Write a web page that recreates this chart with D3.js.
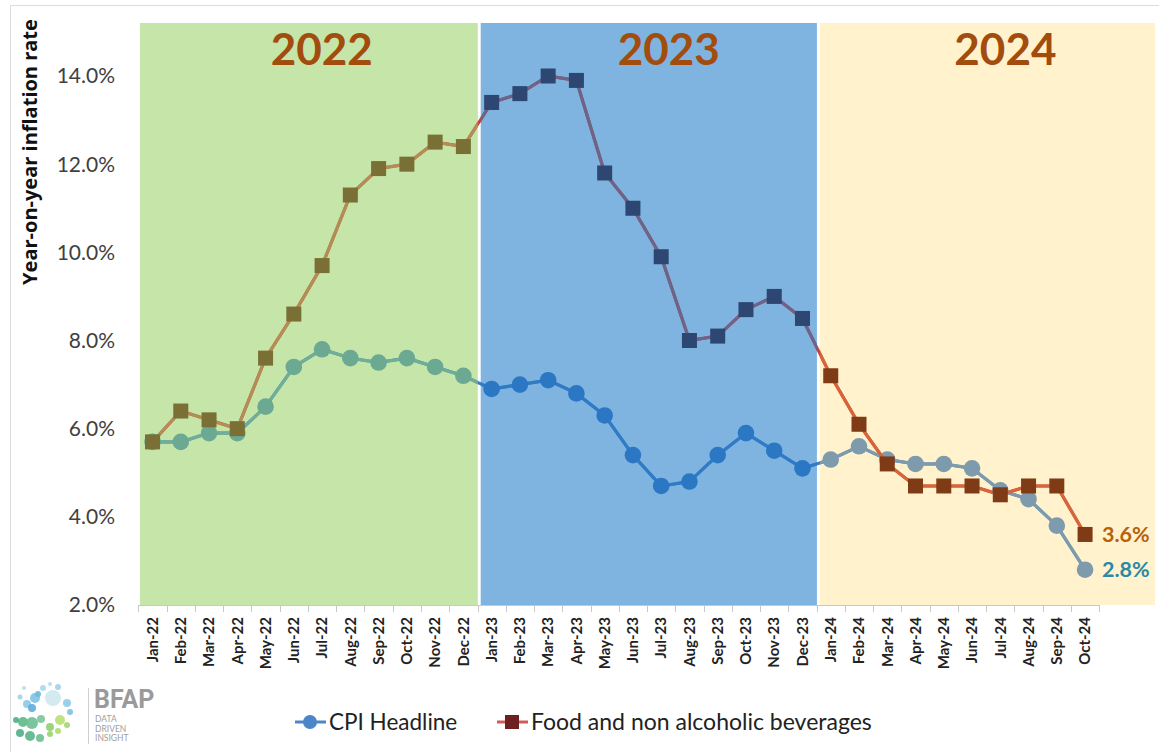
<!DOCTYPE html>
<html>
<head>
<meta charset="utf-8">
<script src="https://cdn.jsdelivr.net/npm/d3@7"></script>
<style>
  body { margin: 0; background: #fff; }
  text { font-family: Lato, "Open Sans", sans-serif; }
</style>
</head>
<body>
<script>
// months on the x axis
var months = ["Jan-22","Feb-22","Mar-22","Apr-22","May-22","Jun-22","Jul-22","Aug-22","Sep-22","Oct-22","Nov-22","Dec-22",
              "Jan-23","Feb-23","Mar-23","Apr-23","May-23","Jun-23","Jul-23","Aug-23","Sep-23","Oct-23","Nov-23","Dec-23",
              "Jan-24","Feb-24","Mar-24","Apr-24","May-24","Jun-24","Jul-24","Aug-24","Sep-24","Oct-24"];

var cpiHeadline = [5.7,5.7,5.9,5.9,6.5,7.4,7.8,7.6,7.5,7.6,7.4,7.2,
                   6.9,7.0,7.1,6.8,6.3,5.4,4.7,4.8,5.4,5.9,5.5,5.1,
                   5.3,5.6,5.3,5.2,5.2,5.1,4.6,4.4,3.8,2.8];

var foodBev = [5.7,6.4,6.2,6.0,7.6,8.6,9.7,11.3,11.9,12.0,12.5,12.4,
               13.4,13.6,14.0,13.9,11.8,11.0,9.9,8.0,8.1,8.7,9.0,8.5,
               7.2,6.1,5.2,4.7,4.7,4.7,4.5,4.7,4.7,3.6];

var yTicks = [2,4,6,8,10,12,14];

var years = ["2022","2023","2024"];
var yearStart = [0,12,24];   // month index where each shaded year begins

var w = 1159;
var h = 752;

var svg = d3.select("body").append("svg")
	.attr("width", w)
	.attr("height", h);

// light frame round the whole picture
svg.append("rect")
	.attr("x", 10.5).attr("y", 5.5)
	.attr("width", w).attr("height", h)
	.attr("fill", "none")
	.attr("stroke", "#dcdcdc");

var x = d3.scaleBand().domain(months).range([138.4, 1099.2]);
var y = d3.scaleLinear().domain([2, 14]).range([605, 76]);
var cx = function(i) { return x(months[i]) + x.bandwidth() / 2; };

// each year gets its own background and its own tint of the two series
var regionStyle = [
	{ bg: "#c6e5a8", cpi: "#6ba993", cpiLine: "#6fae97", food: "#7a7035", foodLine: "#b38d55", labelShift: 13 },
	{ bg: "#7eb4df", cpi: "#2b77c4", cpiLine: "#2f7bc6", food: "#2d4672", foodLine: "#6c6489", labelShift: 20 },
	{ bg: "#fff2cc", cpi: "#7d9bac", cpiLine: "#7d9bac", food: "#7e3b16", foodLine: "#d8643c", labelShift: 18 }
];

function regionBox(k) {
	var left = x(months[yearStart[k]]) + (k == 0 ? 1.5 : 3.2);
	var right = k < years.length - 1 ? x(months[yearStart[k + 1]]) + 0.3 : 1155;
	return { x: left, w: right - left };
}

var defs = svg.append("defs");
years.forEach(function(yr, k) {
	var b = regionBox(k);
	defs.append("clipPath").attr("id", "clip" + k)
		.append("rect").attr("x", b.x).attr("y", 0).attr("width", b.w).attr("height", 605);
	svg.append("rect")
		.attr("x", b.x).attr("y", 23)
		.attr("width", b.w).attr("height", y(2) - 23)
		.attr("fill", regionStyle[k].bg);
});

// x axis line and ticks at band edges
svg.append("line")
	.attr("x1", x.range()[0]).attr("x2", x.range()[1])
	.attr("y1", 605.5).attr("y2", 605.5)
	.attr("stroke", "#c8c8c8");
svg.selectAll(".tk")
	.data(d3.range(months.length + 1))
	.enter().append("line")
	.attr("x1", function(i) { return Math.round(x.range()[0] + i * x.step()) + 0.5; })
	.attr("x2", function(i) { return Math.round(x.range()[0] + i * x.step()) + 0.5; })
	.attr("y1", 605).attr("y2", 612)
	.attr("stroke", "#c8c8c8");

var lineGen = d3.line()
	.x(function(d, i) { return cx(i); })
	.y(function(d) { return y(d); });

// plain colours, only seen in the white gaps between years
svg.append("path").attr("d", lineGen(cpiHeadline))
	.attr("fill", "none").attr("stroke", "#3a7cc4").attr("stroke-width", 3);
svg.append("path").attr("d", lineGen(foodBev))
	.attr("fill", "none").attr("stroke", "#c9403a").attr("stroke-width", 3);

years.forEach(function(yr, k) {
	var st = regionStyle[k];
	var g = svg.append("g").attr("clip-path", "url(#clip" + k + ")");

	g.append("path").attr("d", lineGen(cpiHeadline))
		.attr("fill", "none").attr("stroke", st.cpiLine).attr("stroke-width", 3.2);
	g.selectAll(".cpiPt")
		.data(cpiHeadline).enter().append("circle")
		.attr("cx", function(d, i) { return cx(i); })
		.attr("cy", function(d) { return y(d); })
		.attr("r", 8.3)
		.attr("fill", st.cpi);

	g.append("path").attr("d", lineGen(foodBev))
		.attr("fill", "none").attr("stroke", st.foodLine).attr("stroke-width", 3.2);
	g.selectAll(".foodPt")
		.data(foodBev).enter().append("rect")
		.attr("x", function(d, i) { return cx(i) - 7.5; })
		.attr("y", function(d) { return y(d) - 7.5; })
		.attr("width", 15).attr("height", 15)
		.attr("fill", st.food);

	var b = regionBox(k);
	svg.append("text")
		.attr("x", b.x + b.w / 2 + st.labelShift)
		.attr("y", 65)
		.attr("text-anchor", "middle")
		.attr("font-size", 44)
		.attr("font-weight", "bold")
		.attr("fill", "#a24c0d")
		.text(yr);
});

// y tick labels
svg.selectAll(".ylab")
	.data(yTicks).enter().append("text")
	.attr("x", 115)
	.attr("y", function(d) { return y(d); })
	.attr("dy", "0.35em")
	.attr("text-anchor", "end")
	.attr("font-size", 21)
	.attr("fill", "#404040")
	.text(function(d) { return d.toFixed(1) + "%"; });

svg.append("text")
	.attr("transform", "translate(37,152) rotate(-90)")
	.attr("text-anchor", "middle")
	.attr("font-size", 20)
	.attr("font-weight", "bold")
	.style("font-family", "'Open Sans', sans-serif")
	.attr("fill", "#111")
	.text("Year-on-year inflation rate");

// x tick labels, vertical
svg.selectAll(".xlab")
	.data(months).enter().append("text")
	.attr("transform", function(d) { return "translate(" + (x(d) + x.bandwidth() / 2) + ",617) rotate(-90)"; })
	.attr("dy", "0.35em")
	.attr("text-anchor", "end")
	.attr("font-size", 15)
	.attr("font-weight", "bold")
	.attr("fill", "#222")
	.text(function(d) { return d; });

// end labels
var last = months.length - 1;
svg.append("text")
	.attr("x", 1102).attr("y", y(foodBev[last]))
	.attr("dy", "0.35em")
	.attr("font-size", 21.5).attr("font-weight", "bold")
	.attr("fill", "#b4620f")
	.text(foodBev[last].toFixed(1) + "%");
svg.append("text")
	.attr("x", 1102).attr("y", y(cpiHeadline[last]))
	.attr("dy", "0.35em")
	.attr("font-size", 21.5).attr("font-weight", "bold")
	.attr("fill", "#2b88a8")
	.text(cpiHeadline[last].toFixed(1) + "%");

// legend
var leg = svg.append("g").attr("transform", "translate(0,722)");
leg.append("line").attr("x1", 295).attr("x2", 326).attr("y1", 0).attr("y2", 0)
	.attr("stroke", "#4a86c8").attr("stroke-width", 3);
leg.append("circle").attr("cx", 310).attr("cy", 0).attr("r", 7).attr("fill", "#4a86c8");
leg.append("text").attr("x", 329).attr("y", 0).attr("dy", "0.35em")
	.attr("font-size", 22.5).attr("fill", "#222").text("CPI Headline");
leg.append("line").attr("x1", 497).attr("x2", 528).attr("y1", 0).attr("y2", 0)
	.attr("stroke", "#d45a5a").attr("stroke-width", 3);
leg.append("rect").attr("x", 505).attr("y", -7).attr("width", 14).attr("height", 14).attr("fill", "#6e1f1f");
leg.append("text").attr("x", 531).attr("y", 0).attr("dy", "0.35em")
	.attr("font-size", 23).attr("fill", "#222").text("Food and non alcoholic beverages");

// BFAP logo, rough
var logoDots = [
	[53,698,8,"#cfe8f0"],[35,698,5,"#7ec3e3"],[27,704,4,"#8cc9e6"],[43,688,3,"#a9d8ee"],
	[58,687,3,"#9fd2ea"],[20,697,2.5,"#9fd2ea"],[67,703,4,"#8ecbe8"],[70,712,3,"#7fc0e0"],
	[32,708,4,"#5aaed8"],[38,694,3,"#6db8df"],[50,684,2,"#b4dcee"],[24,688,2,"#b4dcee"],
	[23,722,5,"#5fb88a"],[32,723,6,"#6bbf93"],[41,719,4,"#7cc79a"],[50,727,4,"#8fd06a"],
	[60,720,5,"#b8e070"],[67,725,3,"#a4d86c"],[20,733,4,"#4fae86"],[30,736,5,"#5bb58a"],
	[40,738,4,"#6cbf8e"],[50,734,3,"#9ad16b"],[58,731,3,"#aedc72"],[16,720,3,"#4fae86"]
];
svg.selectAll(".dot").data(logoDots).enter().append("circle")
	.attr("cx", function(d) { return d[0]; })
	.attr("cy", function(d) { return d[1]; })
	.attr("r", function(d) { return d[2]; })
	.attr("fill", function(d) { return d[3]; })
	.attr("opacity", 0.9);
svg.append("line").attr("x1", 88.5).attr("x2", 88.5).attr("y1", 688).attr("y2", 744)
	.attr("stroke", "#cfcfcf");
svg.append("text").attr("x", 94).attr("y", 708)
	.attr("font-size", 25).attr("fill", "#9a9a9a")
	.style("font-family", "Roboto, sans-serif")
	.attr("font-weight", "bold")
	.text("BFAP");
["DATA","DRIVEN","INSIGHT"].forEach(function(t, i) {
	svg.append("text").attr("x", 95).attr("y", 722 + i * 9.5)
		.attr("font-size", 8.5).attr("fill", "#a0a0a0")
		.text(t);
});
</script>
</body>
</html>
